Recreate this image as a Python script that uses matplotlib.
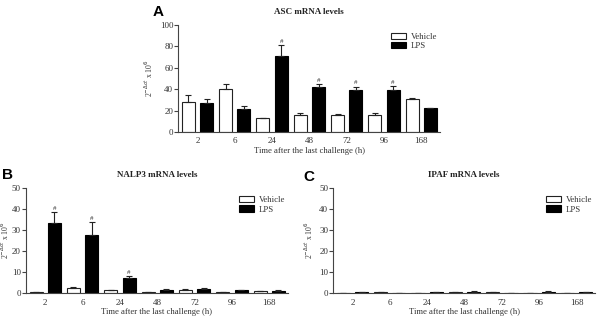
import matplotlib
matplotlib.use('Agg')
import matplotlib.pyplot as plt
import numpy as np

# Data
times = ['2', '6', '24', '48', '72', '96', '168']

asc_veh = [28, 40, 13, 16, 16, 16, 31]
asc_veh_err = [7, 5, 0, 2, 1, 1.5, 1]
asc_lps = [27, 21.5, 71, 42, 39.5, 39, 22]
asc_lps_err = [4, 3, 10, 3, 3, 4, 0.5]
asc_sig = [False, False, True, True, True, True, False]

nalp_veh = [0.6, 2.5, 1.4, 0.5, 1.3, 0.5, 1.0]
nalp_veh_err = [0.1, 0.3, 0.3, 0.1, 0.5, 0.1, 0.2]
nalp_lps = [33.5, 27.5, 7.3, 1.6, 2.1, 1.5, 1.2]
nalp_lps_err = [5, 6.5, 0.8, 0.2, 0.2, 0.2, 0.2]
nalp_sig = [True, True, True, False, False, False, False]

ipaf_veh = [0.2, 0.4, 0.2, 0.4, 0.4, 0.2, 0.2]
ipaf_veh_err = [0.05, 0.05, 0.05, 0.05, 0.05, 0.05, 0.05]
ipaf_lps = [0.5, 0.2, 0.6, 0.7, 0.2, 0.7, 0.4]
ipaf_lps_err = [0.1, 0.05, 0.1, 0.1, 0.05, 0.1, 0.05]
ipaf_sig = [False] * 7

SERIF = 'Liberation Serif'
TXT = '#333333'

fig = plt.figure(figsize=(6, 3.21), dpi=100)


def panel(rect, veh, veh_err, lps, lps_err, sig, ymax, step, title, letter, letter_xy, ylab_x):
    ax = fig.add_axes(rect)
    x = np.arange(len(times))
    w = 0.35
    off = 0.245
    z = np.zeros(len(x))
    ax.bar(x - off, veh, w, color='white', edgecolor='#222222', linewidth=0.8,
           yerr=[z, veh_err], capsize=2.5, error_kw=dict(elinewidth=0.8, capthick=0.8, ecolor='#222222'),
           label='Vehicle')
    ax.bar(x + off, lps, w, color='black', edgecolor='black', linewidth=0.8,
           yerr=[z, lps_err], capsize=2.5, error_kw=dict(elinewidth=0.8, capthick=0.8, ecolor='#222222'),
           label='LPS')
    for i, s in enumerate(sig):
        if s:
            ax.text(x[i] + off, lps[i] + lps_err[i] + ymax * 0.01, '#', ha='center', va='bottom',
                    fontsize=5, family=SERIF, color=TXT)
    ax.set_xlim(-0.52, 6.5)
    ax.set_ylim(0, ymax)
    ax.set_yticks(np.arange(0, ymax + 1, step))
    ax.set_xticks(x)
    ax.set_xticklabels(times)
    ax.tick_params(axis='x', length=0, pad=4, labelsize=6.5, labelcolor=TXT)
    ax.tick_params(axis='y', length=3, width=0.8, pad=0.5, labelsize=6.5, labelcolor=TXT, color='#444444')
    for lab in ax.get_xticklabels() + ax.get_yticklabels():
        lab.set_family(SERIF)
    for sp in ['top', 'right']:
        ax.spines[sp].set_visible(False)
    for sp in ['left', 'bottom']:
        ax.spines[sp].set_linewidth(0.8)
        ax.spines[sp].set_color('#444444')
    ax.set_xlabel('Time after the last challenge (h)', family=SERIF, fontsize=6.2, color=TXT, labelpad=1)
    ax.set_ylabel(r'2$^{-\Delta ct}$ x 10$^{6}$', family=SERIF, fontsize=5.5, color=TXT)
    ax.yaxis.set_label_coords(ylab_x, 0.5)
    ax.set_title(title, family=SERIF, fontsize=6.5, fontweight='bold', color='#222222', pad=8)
    ax.legend(loc='upper right', bbox_to_anchor=(1.02, 1.0), frameon=False,
              prop={'family': SERIF, 'size': 6.3}, handlelength=1.7, handleheight=0.7,
              handletextpad=0.6, labelspacing=0.15, labelcolor=TXT)
    fig.text(letter_xy[0], letter_xy[1], letter, family='Liberation Sans', fontweight='bold',
             fontsize=11, ha='left', va='center')
    return ax


panel([0.297, 0.589, 0.436, 0.333], asc_veh, asc_veh_err, asc_lps, asc_lps_err, asc_sig,
      100, 20, 'ASC mRNA levels', 'A', (0.255, 0.962), -0.088)
panel([0.043, 0.087, 0.437, 0.327], nalp_veh, nalp_veh_err, nalp_lps, nalp_lps_err, nalp_sig,
      50, 10, 'NALP3 mRNA levels', 'B', (0.003, 0.455), -0.057)
panel([0.555, 0.087, 0.437, 0.327], ipaf_veh, ipaf_veh_err, ipaf_lps, ipaf_lps_err, ipaf_sig,
      50, 10, 'IPAF mRNA levels', 'C', (0.505, 0.448), -0.069)

fig.savefig('out.png', dpi=100)
